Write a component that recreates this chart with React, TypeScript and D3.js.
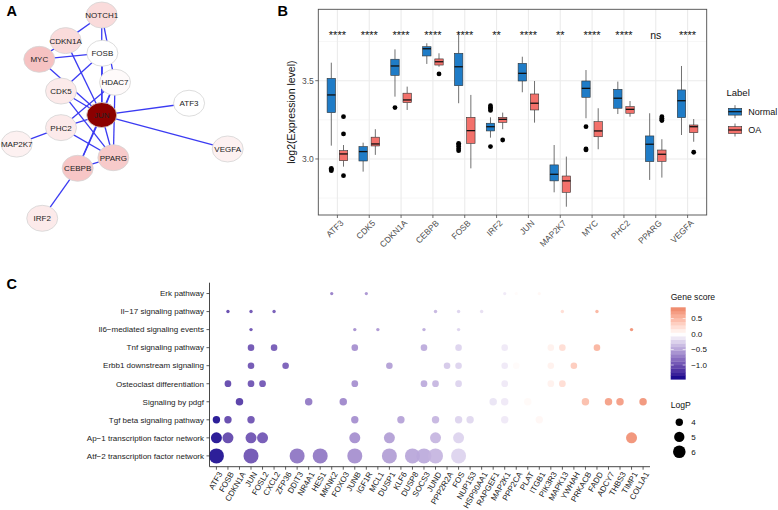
import React from "react";
import * as d3 from "d3";

const FONT = "'Liberation Sans', Arial, Helvetica, sans-serif";

// ---------------- Panel A: network ----------------
const netNodes = ["NOTCH1", "CDKN1A", "FOSB", "MYC", "HDAC7", "CDK5", "ATF3", "JUN", "PHC2", "MAP2K7", "VEGFA", "PPARG", "CEBPB", "IRF2"];
const netLayoutX = [0.403, 0.232, 0.406, 0.107, 0.466, 0.21, 0.817, 0.403, 0.21, 0.0, 1.0, 0.458, 0.289, 0.121];
const netLayoutY = [0.0, 0.126, 0.188, 0.218, 0.331, 0.374, 0.434, 0.492, 0.554, 0.635, 0.659, 0.702, 0.754, 1.0];
const netScore = [0.2, 0.2, 0.0, 0.34, 0.03, 0.12, 0.0, 1.0, 0.12, 0.08, 0.08, 0.3, 0.32, 0.12];
const netEdges: [string, string][] = [
  ["NOTCH1", "CDKN1A"], ["NOTCH1", "JUN"], ["NOTCH1", "HDAC7"], ["CDKN1A", "MYC"], ["CDKN1A", "JUN"],
  ["MYC", "FOSB"], ["MYC", "JUN"], ["FOSB", "CDK5"], ["FOSB", "JUN"], ["CDK5", "JUN"], ["CDK5", "PPARG"],
  ["HDAC7", "JUN"], ["HDAC7", "PHC2"], ["HDAC7", "CEBPB"], ["HDAC7", "PPARG"], ["ATF3", "JUN"], ["VEGFA", "JUN"],
  ["PHC2", "JUN"], ["PHC2", "MAP2K7"], ["PHC2", "PPARG"], ["JUN", "PPARG"], ["JUN", "CEBPB"], ["PPARG", "CEBPB"],
  ["CEBPB", "IRF2"],
];

// ---------------- Panel B: boxplots ----------------
const bGenes = ["ATF3", "CDK5", "CDKN1A", "CEBPB", "FOSB", "IRF2", "JUN", "MAP2K7", "MYC", "PHC2", "PPARG", "VEGFA"];
const bGroups = ["Normal", "OA"];
// [lower whisker, q1, median, q3, upper whisker]
const normalStats = [
  [3.085, 3.296, 3.409, 3.515, 3.615], [2.919, 2.987, 3.047, 3.079, 3.104], [3.398, 3.534, 3.594, 3.637, 3.70],
  [3.607, 3.658, 3.704, 3.717, 3.739], [3.356, 3.468, 3.589, 3.675, 3.81], [3.136, 3.179, 3.206, 3.228, 3.266],
  [3.426, 3.498, 3.547, 3.611, 3.653], [2.787, 2.86, 2.902, 2.962, 3.089], [3.26, 3.394, 3.451, 3.498, 3.568],
  [3.287, 3.324, 3.388, 3.445, 3.494], [2.866, 2.983, 3.094, 3.147, 3.292], [3.153, 3.264, 3.372, 3.441, 3.594],
];
const oaStats = [
  [2.951, 2.989, 3.032, 3.053, 3.089], [3.026, 3.083, 3.096, 3.139, 3.19], [3.313, 3.36, 3.377, 3.42, 3.462],
  [3.589, 3.60, 3.621, 3.639, 3.675], [2.94, 3.10, 3.181, 3.266, 3.409], [3.19, 3.234, 3.253, 3.266, 3.296],
  [3.232, 3.313, 3.356, 3.415, 3.498], [2.695, 2.787, 2.86, 2.891, 3.015], [3.062, 3.142, 3.179, 3.238, 3.324],
  [3.27, 3.292, 3.317, 3.334, 3.37], [2.881, 2.985, 3.03, 3.057, 3.126], [3.11, 3.168, 3.206, 3.217, 3.255],
];
const normalOutliers = [
  [2.94, 2.925, 2.932], [], [3.328], [], [3.10, 3.09, 3.079, 3.065, 3.053], [3.34, 3.33, 3.32, 3.31, 3.079],
  [], [], [3.206, 3.064, 3.058], [], [], [],
];
const oaOutliers = [
  [3.27, 3.16, 2.893], [], [], [3.543], [], [3.121], [], [], [], [], [3.27, 3.26, 3.25, 3.245], [3.043],
];
const sigLabels = ["****", "****", "****", "****", "****", "**", "****", "**", "****", "****", "ns", "****"];
const sigLevel = 3.768;
const bMajorTicks = [3.0, 3.5];
const bMinorTicks = [2.75, 3.25, 3.75];
const bYDomain = [2.642, 3.956];
const groupColors = ["#1f7cc7", "#f3716b"];

// ---------------- Panel C: dot plot ----------------
const cGenes = ["ATF3", "FOSB", "CDKN1A", "JUN", "FOSL2", "CXCL2", "ZFP36", "DDIT3", "NR4A1", "HES1", "MKNK2", "FOXO3", "JUNB", "IGF1R", "MCL1", "DUSP1", "KLF6", "DUSP8", "SOCS3", "JUND", "PPP2R2A", "FOS", "NUP153", "HSP90AA1", "RAPGEF1", "MAP2K1", "PPP2CA", "PLAT", "ITGB1", "PIK3R3", "MAPK13", "YWHAH", "PRKACB", "FADD", "ADCY7", "THBS3", "TIMP1", "COL1A1"];
const cGeneScore = [-1.42, -1.1, -1.18, -1.02, -1.0, -0.98, -0.95, -0.8, -0.78, -0.78, -0.75, -0.69, -0.64, -0.62, -0.6, -0.55, -0.53, -0.5, -0.48, -0.41, -0.3, -0.24, -0.22, -0.18, -0.15, -0.12, 0.03, 0.04, 0.06, 0.1, 0.25, 0.38, 0.48, 0.55, 0.7, 0.72, 0.8, 0.78];
const cPathways = ["Erk pathway", "Il−17 signaling pathway", "Il6−mediated signaling events", "Tnf signaling pathway", "Erbb1 downstream signaling", "Osteoclast differentiation", "Signaling by pdgf", "Tgf beta signaling pathway", "Ap−1 transcription factor network", "Atf−2 transcription factor network"];
const cPathwayLogP = [3.15, 3.17, 3.17, 3.78, 3.78, 3.82, 4.02, 4.0, 5.28, 7.28];
const cPathwayGenes = [
  ["MKNK2", "IGF1R", "MAP2K1", "PPP2CA", "ITGB1"],
  ["FOSB", "JUN", "CXCL2", "JUND", "FOS", "HSP90AA1", "MAPK13", "FADD"],
  ["JUN", "JUNB", "MCL1", "SOCS3", "FOS", "TIMP1"],
  ["JUN", "CXCL2", "JUNB", "SOCS3", "FOS", "MAP2K1", "PIK3R3", "MAPK13", "FADD"],
  ["JUN", "ZFP36", "DUSP1", "PPP2R2A", "FOS", "MAP2K1", "PPP2CA", "PIK3R3", "YWHAH"],
  ["FOSB", "JUN", "FOSL2", "JUNB", "SOCS3", "JUND", "FOS", "MAP2K1", "PIK3R3", "MAPK13"],
  ["CDKN1A", "NR4A1", "FOXO3", "RAPGEF1", "MAP2K1", "PLAT", "PRKACB", "ADCY7", "THBS3", "COL1A1"],
  ["ATF3", "FOSB", "JUN", "JUNB", "KLF6", "JUND", "FOS", "NUP153", "MAP2K1", "ITGB1"],
  ["ATF3", "FOSB", "JUN", "FOSL2", "JUNB", "DUSP1", "JUND", "FOS", "TIMP1"],
  ["ATF3", "JUN", "DDIT3", "HES1", "JUNB", "DUSP1", "DUSP8", "SOCS3", "JUND", "FOS"],
];
const scoreDomain = [-1.46, 0, 0.86];
const scoreTicks = [0.5, 0.0, -0.5, -1.0];
const logPBreaks = [4, 5, 6];

function fmtTick(v: number) {
  return (v < 0 ? "−" : "") + Math.abs(v).toFixed(1);
}

function PanelA() {
  const sx = d3.scaleLinear().domain([0, 1]).range([16.7, 227.7]);
  const sy = d3.scaleLinear().domain([0, 1]).range([15, 218.3]);
  const col = d3.scaleLinear<string>().domain([0, 0.5, 1]).range(["#ffffff", "#f2a6a6", "#8b0000"]);
  const idx = (n: string) => netNodes.indexOf(n);
  return (
    <g>
      <text x={6.5} y={15.5} fontSize={14.5} fontWeight="bold" fill="#000">A</text>
      {netEdges.map(([a, b], i) => (
        <line key={i} x1={sx(netLayoutX[idx(a)])} y1={sy(netLayoutY[idx(a)])} x2={sx(netLayoutX[idx(b)])} y2={sy(netLayoutY[idx(b)])}
          stroke="#3b3bf2" strokeWidth={1.3} />
      ))}
      {netNodes.map((n, i) => (
        <g key={n}>
          <ellipse cx={sx(netLayoutX[i])} cy={sy(netLayoutY[i])} rx={n === "JUN" ? 15 : 15.5} ry={n === "JUN" ? 12.5 : 13}
            fill={col(netScore[i])} stroke="#d4d4d4" strokeWidth={0.8} />
          <text x={sx(netLayoutX[i])} y={sy(netLayoutY[i]) + 2.9} fontSize={8} textAnchor="middle" fill="#222">{n}</text>
        </g>
      ))}
    </g>
  );
}

function PanelB() {
  const left = 318.3, right = 706.7, top = 9.3, bottom = 215;
  const x = d3.scalePoint<string>().domain(bGenes).range([left, right]).padding(0.6);
  const y = d3.scaleLinear().domain(bYDomain).range([bottom, top]);
  const dodge = 6.1, bw = 8.4;
  const stats = [normalStats, oaStats];
  const outs = [normalOutliers, oaOutliers];
  return (
    <g>
      <text x={277.5} y={15.5} fontSize={14.5} fontWeight="bold" fill="#000">B</text>
      <rect x={left} y={top} width={right - left} height={bottom - top} fill="#fff" />
      {bMinorTicks.map((t) => (
        <line key={"mn" + t} x1={left} x2={right} y1={y(t)} y2={y(t)} stroke="#f0f0f0" strokeWidth={0.6} />
      ))}
      {bMajorTicks.map((t) => (
        <line key={"mj" + t} x1={left} x2={right} y1={y(t)} y2={y(t)} stroke="#ebebeb" strokeWidth={1.1} />
      ))}
      {bGenes.map((g) => (
        <line key={"vg" + g} x1={x(g)!} x2={x(g)!} y1={top} y2={bottom} stroke="#ebebeb" strokeWidth={1.1} />
      ))}
      {bGenes.map((g, i) =>
        bGroups.map((grp, k) => {
          const cx = x(g)! + (k === 0 ? -dodge : dodge);
          const [lo, q1, md, q3, hi] = stats[k][i];
          return (
            <g key={g + grp}>
              <line x1={cx} x2={cx} y1={y(hi)} y2={y(q3)} stroke="#333" strokeWidth={0.7} />
              <line x1={cx} x2={cx} y1={y(q1)} y2={y(lo)} stroke="#333" strokeWidth={0.7} />
              <rect x={cx - bw / 2} y={y(q3)} width={bw} height={y(q1) - y(q3)} fill={groupColors[k]} stroke="#333" strokeWidth={0.6} />
              <line x1={cx - bw / 2} x2={cx + bw / 2} y1={y(md)} y2={y(md)} stroke="#111" strokeWidth={1.3} />
              {outs[k][i].map((o, j) => (
                <circle key={j} cx={cx} cy={y(o)} r={2.4} fill="#000" />
              ))}
            </g>
          );
        })
      )}
      {bGenes.map((g, i) => (
        <text key={"s" + g} x={x(g)!} y={y(sigLevel)} fontSize={sigLabels[i] === "ns" ? 10.5 : 11} textAnchor="middle" fill="#111">{sigLabels[i]}</text>
      ))}
      <rect x={left} y={top} width={right - left} height={bottom - top} fill="none" stroke="#4d4d4d" strokeWidth={0.9} />
      {bMajorTicks.map((t) => (
        <g key={"yt" + t}>
          <line x1={left - 3} x2={left} y1={y(t)} y2={y(t)} stroke="#4d4d4d" strokeWidth={0.8} />
          <text x={left - 4.5} y={y(t) + 3} fontSize={8.5} textAnchor="end" fill="#4d4d4d">{t.toFixed(1)}</text>
        </g>
      ))}
      {bGenes.map((g) => (
        <g key={"xt" + g}>
          <line x1={x(g)!} x2={x(g)!} y1={bottom} y2={bottom + 3} stroke="#4d4d4d" strokeWidth={0.8} />
          <text transform={`translate(${x(g)! + 3},${bottom + 5}) rotate(-45)`} fontSize={8.5} textAnchor="end" dy="0.6em" fill="#4d4d4d">{g}</text>
        </g>
      ))}
      <text transform={`translate(295,${(top + bottom) / 2}) rotate(-90)`} fontSize={10.5} textAnchor="middle" fill="#111">log2(Expression level)</text>
      {/* legend */}
      <text x={726.5} y={96} fontSize={9.5} fill="#111">Label</text>
      {bGroups.map((grp, k) => {
        const cy = 111.7 + k * 18.3;
        const kx = 735;
        return (
          <g key={"lg" + grp}>
            <line x1={kx} x2={kx} y1={cy - 6.5} y2={cy + 6.5} stroke="#333" strokeWidth={0.7} />
            <rect x={kx - 6.7} y={cy - 3.4} width={13.4} height={6.8} fill={groupColors[k]} stroke="#333" strokeWidth={0.6} />
            <line x1={kx - 6.7} x2={kx + 6.7} y1={cy} y2={cy} stroke="#111" strokeWidth={1.2} />
            <text x={748.3} y={cy + 3.2} fontSize={9} fill="#111">{grp}</text>
          </g>
        );
      })}
    </g>
  );
}

function PanelC() {
  const left = 209.5, right = 650, top = 282.7, bottom = 466.7;
  const x = d3.scalePoint<string>().domain(cGenes).range([left, right]).padding(0.6);
  const y = d3.scalePoint<string>().domain(cPathways).range([top, bottom]).padding(0.6);
  const col = d3.scaleLinear<string>().domain(scoreDomain).range(["#00008B", "#ffffff", "#EE8466"]).interpolate(d3.interpolateLab);
  const area = d3.scaleLinear().domain([2.95, 7.28]).range([0, 56.25]);
  const rad = (v: number) => Math.sqrt(Math.max(0, area(v)));
  const cbTop = 307.3, cbBottom = 379.3, cbX = 670.7, cbW = 15;
  const cb = d3.scaleLinear().domain([scoreDomain[0], scoreDomain[2]]).range([cbBottom, cbTop]);
  const nBins = 20;
  const bins = d3.range(nBins).map((i) => scoreDomain[0] + ((i + 0.5) / nBins) * (scoreDomain[2] - scoreDomain[0]));
  const binH = (cbBottom - cbTop) / nBins;
  const legY = [422.3, 436.9, 451.7];
  return (
    <g>
      <text x={6.5} y={289} fontSize={14.5} fontWeight="bold" fill="#000">C</text>
      {cPathways.map((p, pi) => (
        <g key={p}>
          {cPathwayGenes[pi].map((g) => (
            <circle key={g} cx={x(g)!} cy={y(p)!} r={rad(cPathwayLogP[pi])} fill={col(cGeneScore[cGenes.indexOf(g)])} fillOpacity={0.9} />
          ))}
        </g>
      ))}
      <line x1={left} x2={left} y1={top} y2={bottom} stroke="#333" strokeWidth={0.9} />
      <line x1={left} x2={right} y1={bottom} y2={bottom} stroke="#333" strokeWidth={0.9} />
      {cPathways.map((p) => (
        <g key={"yl" + p}>
          <line x1={left - 3} x2={left} y1={y(p)!} y2={y(p)!} stroke="#333" strokeWidth={0.8} />
          <text x={left - 5.5} y={y(p)! + 2.8} fontSize={8} textAnchor="end" fill="#222">{p}</text>
        </g>
      ))}
      {cGenes.map((g) => (
        <g key={"xl" + g}>
          <line x1={x(g)!} x2={x(g)!} y1={bottom} y2={bottom + 3} stroke="#333" strokeWidth={0.8} />
          <text transform={`translate(${x(g)! + 2.5},${bottom + 5}) rotate(-60)`} fontSize={8} textAnchor="end" dy="0.55em" fill="#222">{g}</text>
        </g>
      ))}
      {/* colour legend */}
      <text x={cbX} y={299.5} fontSize={8.6} fill="#111">Gene score</text>
      {bins.map((v, i) => (
        <rect key={"cb" + i} x={cbX} y={cbBottom - (i + 1) * binH} width={cbW} height={binH + 0.3} fill={col(v)} />
      ))}
      {scoreTicks.map((t) => (
        <g key={"ct" + t}>
          <line x1={cbX} x2={cbX + 3} y1={cb(t)} y2={cb(t)} stroke="#fff" strokeWidth={0.6} />
          <line x1={cbX + cbW - 3} x2={cbX + cbW} y1={cb(t)} y2={cb(t)} stroke="#fff" strokeWidth={0.6} />
          <text x={cbX + 20.5} y={cb(t) + 2.9} fontSize={8} fill="#111">{fmtTick(t)}</text>
        </g>
      ))}
      {/* size legend */}
      <text x={cbX} y={408} fontSize={8.6} fill="#111">LogP</text>
      {logPBreaks.map((b, i) => (
        <g key={"lp" + b}>
          <circle cx={679.3} cy={legY[i]} r={rad(b)} fill="#000" />
          <text x={cbX + 20.5} y={legY[i] + 2.9} fontSize={8} fill="#111">{b}</text>
        </g>
      ))}
    </g>
  );
}

export default function App() {
  return (
    <svg width={778} height={510} viewBox="0 0 778 510" fontFamily={FONT}
      style={{ position: "absolute", left: 0, top: 0, background: "#fff" }}>
      <rect width={778} height={510} fill="#fff" />
      <PanelA />
      <PanelB />
      <PanelC />
    </svg>
  );
}
